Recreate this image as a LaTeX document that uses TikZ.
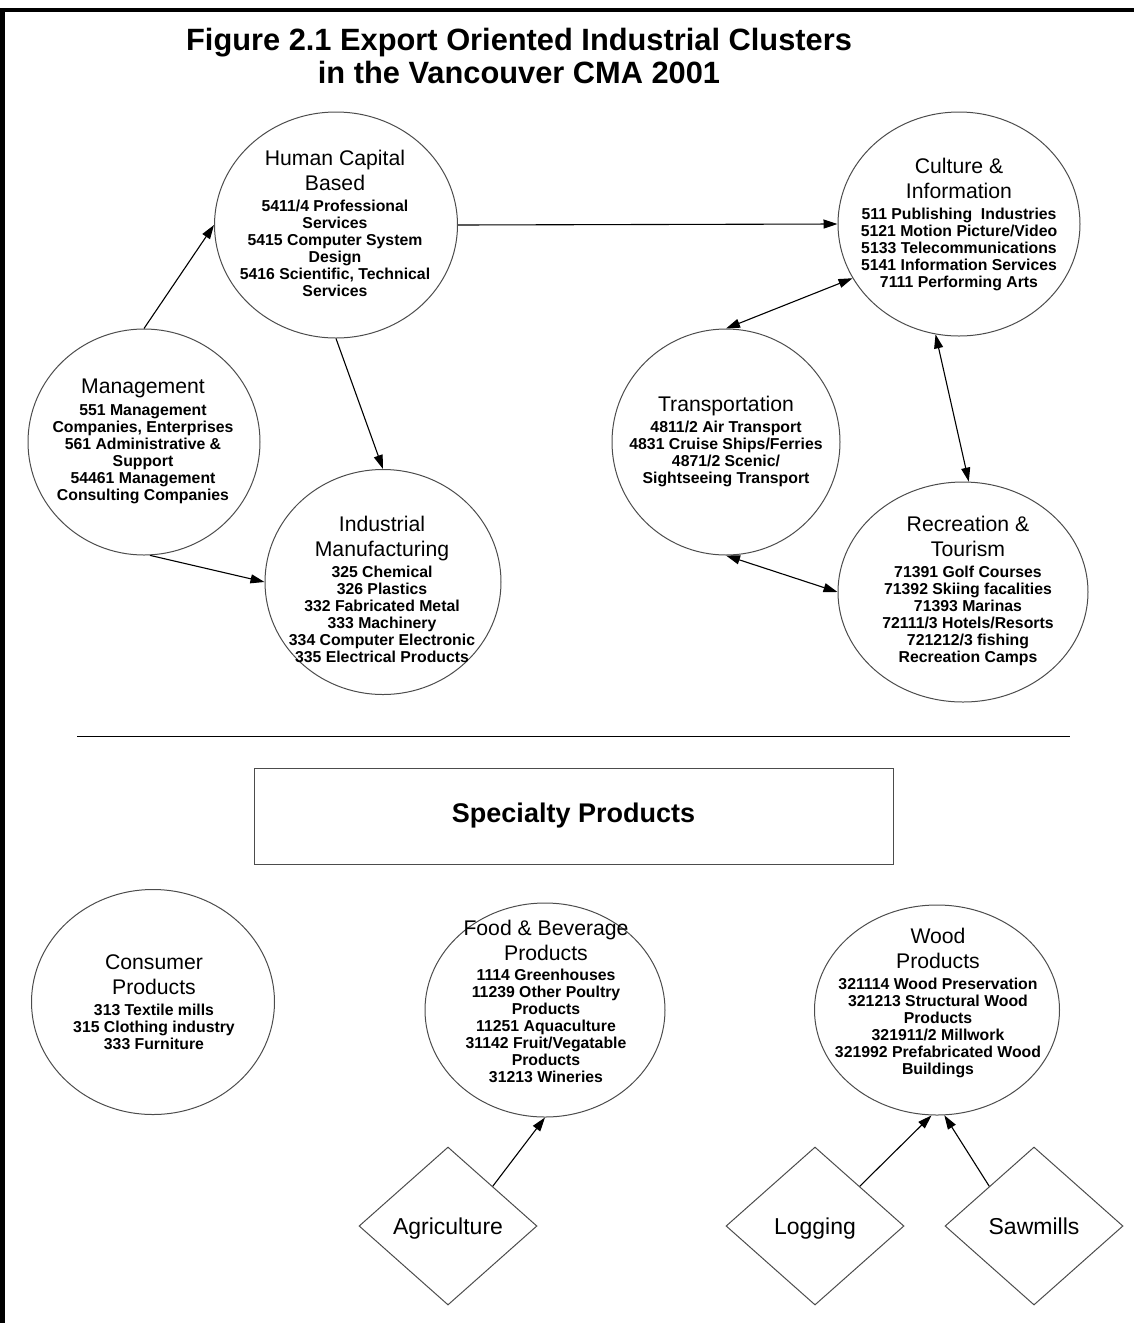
\documentclass[tikz,border=0pt]{standalone}
\usepackage{fontspec}
\setmainfont{Liberation Sans}
\usetikzlibrary{shapes.geometric,arrows.meta}

\tikzset{
  cluster/.style={ellipse, draw=black!70, line width=1pt, inner sep=0pt},
  blurb/.style={align=center, anchor=north, inner sep=0pt,
    font=\fontsize{15.8}{17}\selectfont\bfseries},
  source/.style={diamond, draw=black!70, line width=1pt, inner sep=0pt,
    minimum width=178pt, minimum height=158pt, text height=18pt, text depth=2pt,
    font=\fontsize{23}{26}\selectfont},
  tip/.tip={Triangle[length=14pt,width=9pt]},
  link/.style={draw=black, line width=1.1pt, -tip},
  twoway/.style={draw=black, line width=1.1pt, tip-tip},
}
% cluster headings: larger regular type on a fixed line pitch
\newcommand\hd[1]{\smash{\fontsize{21.2}{25}\mdseries\selectfont #1}}

\begin{document}
\begin{tikzpicture}[x=1pt, y=-1pt]
\useasboundingbox (0,0) rectangle (1134,1323);

% page frame (top and left edges)
\draw[line width=4.5pt, line join=miter] (2.5,1323) -- (2.5,10) -- (1134,10);

% title
\node[align=center, anchor=north, inner sep=0pt,
      font=\fontsize{30.8}{33}\selectfont\bfseries] (title) at (519,28)
  {Figure 2.1 Export Oriented Industrial Clusters\\in the Vancouver CMA 2001};

% ---- upper clusters ----
\node[cluster, minimum width=243pt, minimum height=226pt] (hc) at (336,225) {};
\node[blurb] (hct) at (335,165.6) {\hd{Human Capital}\\[8pt]\hd{Based}\\[4pt]5411/4 Professional\\Services\\5415 Computer System\\Design\\5416 Scientific, Technical\\Services};

\node[cluster, minimum width=242pt, minimum height=224pt] (cul) at (959,224) {};
\node[blurb] (cult) at (959,173.6) {\hd{Culture \&}\\[8pt]\hd{Information}\\[4pt]511 Publishing\ \ Industries\\5121 Motion Picture/Video\\5133 Telecommunications\\5141 Information Services\\7111 Performing Arts};

\node[cluster, minimum width=232pt, minimum height=226pt] (mgmt) at (144,442) {};
\node[blurb] (mgmtt) at (143,393.6) {\hd{Management}\\[5pt]551 Management\\Companies, Enterprises\\561 Administrative \&\\Support\\54461 Management\\Consulting Companies};

\node[cluster, minimum width=236pt, minimum height=225pt] (ind) at (383,582) {};
\node[blurb] (indt) at (382,531.6) {\hd{Industrial}\\[8pt]\hd{Manufacturing}\\[4pt]325 Chemical\\326 Plastics\\332 Fabricated Metal\\333 Machinery\\334 Computer Electronic\\335 Electrical Products};

\node[cluster, minimum width=228pt, minimum height=226pt] (trans) at (726,442) {};
\node[blurb] (transt) at (726,411.6) {\hd{Transportation}\\[4pt]4811/2 Air Transport\\4831 Cruise Ships/Ferries\\4871/2 Scenic/\\Sightseeing Transport};

\node[cluster, minimum width=250pt, minimum height=220pt] (rec) at (963,592) {};
\node[blurb] (rect) at (968,531.6) {\hd{Recreation \&}\\[8pt]\hd{Tourism}\\[4pt]71391 Golf Courses\\71392 Skiing facalities\\71393 Marinas\\72111/3 Hotels/Resorts\\721212/3 fishing\\Recreation Camps};

% links between the upper clusters
\draw[link] (mgmt.north) -- (hc.west);
\draw[link] (hc.south) -- (ind.north);
\draw[link] (mgmt.-87) -- (ind.west);
\draw[link] (hc.east) -- (cul.west);
\draw[twoway] (cul.207) -- (trans.north);
\draw[twoway] (cul.-102) -- (rec.87);
\draw[twoway] (trans.south) -- (rec.west);

% divider
\draw[line width=1pt] (77,736) -- (1070,736);

% ---- specialty products ----
\node[draw=black!70, line width=1pt, minimum width=639pt, minimum height=96pt,
      font=\fontsize{27}{30}\selectfont\bfseries] (spec) at (573.5,816) {Specialty Products};

\node[cluster, minimum width=243pt, minimum height=225pt] (cons) at (153,1002) {};
\node[blurb] (const) at (154,969.6) {\hd{Consumer}\\[8pt]\hd{Products}\\[4pt]313 Textile mills\\315 Clothing industry\\333 Furniture};

\node[cluster, minimum width=240pt, minimum height=214pt] (food) at (545,1010) {};
\node[blurb] (foodt) at (546,935.6) {\hd{Food \& Beverage}\\[8pt]\hd{Products}\\[3pt]1114 Greenhouses\\11239 Other Poultry\\Products\\11251 Aquaculture\\31142 Fruit/Vegatable\\Products\\31213 Wineries};

\node[cluster, minimum width=245pt, minimum height=210pt] (wood) at (937,1010) {};
\node[blurb] (woodt) at (938,943.6) {\hd{Wood}\\[8pt]\hd{Products}\\[4pt]321114 Wood Preservation\\321213 Structural Wood\\Products\\321911/2 Millwork\\321992 Prefabricated Wood\\Buildings};

% supplying activities
\node[source] (agri) at (448,1226) {Agriculture};
\node[source] (log) at (815,1226) {Logging};
\node[source] (saw) at (1034,1226) {Sawmills};

\draw[link] (agri.north east) -- (food.south);
\draw[link] (log.north east) -- (wood.-93);
\draw[link] (saw.north west) -- (wood.-86);
\end{tikzpicture}
\end{document}
